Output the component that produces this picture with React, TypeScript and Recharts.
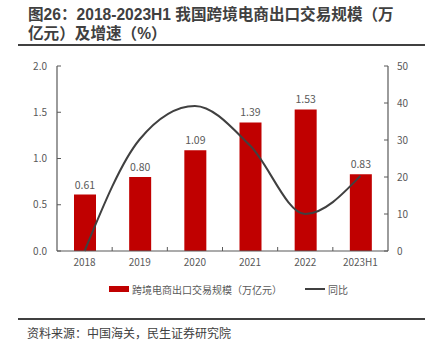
import React from "react";
import { ComposedChart, Bar, Line, XAxis, YAxis, LabelList } from "recharts";

const categories = ["2018", "2019", "2020", "2021", "2022", "2023H1"];
const scaleValues = [0.61, 0.8, 1.09, 1.39, 1.53, 0.83];
const growthValues = [0, 30.2, 39.2, 28.5, 10.0, 20.3];
const leftTicks = [0, 0.5, 1.0, 1.5, 2.0];
const rightTicks = [0, 10, 20, 30, 40, 50];

const data = categories.map((c, i) => ({ name: c, scale: scaleValues[i], growth: growthValues[i] }));

const FONT = "'Noto Sans CJK SC', 'Noto Sans', sans-serif";
const TITLE_FONT = "'Liberation Sans', 'Noto Sans CJK SC', sans-serif";
const TICK_COLOR = "#595959";
const AXIS_COLOR = "#595959";

const LeftTick = (props: any) => {
  const { x, y, payload } = props;
  const ax = x + 10;
  return (
    <g>
      <line x1={ax} x2={ax + 4} y1={y} y2={y} stroke={AXIS_COLOR} strokeWidth={1} />
      <text x={x} y={y} dy="0.35em" textAnchor="end" fontSize={10} fill={TICK_COLOR} fontFamily={FONT}>
        {Number(payload.value).toFixed(1)}
      </text>
    </g>
  );
};

const RightTick = (props: any) => {
  const { x, y, payload } = props;
  const ax = x - 9;
  return (
    <g>
      <line x1={ax - 4} x2={ax} y1={y} y2={y} stroke={AXIS_COLOR} strokeWidth={1} />
      <text x={x} y={y} dy="0.35em" textAnchor="start" fontSize={10} fill={TICK_COLOR} fontFamily={FONT}>
        {payload.value}
      </text>
    </g>
  );
};

const BottomTick = (props: any) => {
  const { x, y, payload, index } = props;
  const band = 331 / categories.length;
  const ay = y - 8;
  return (
    <g>
      {index < categories.length - 1 && (
        <line x1={x + band / 2} x2={x + band / 2} y1={ay - 4} y2={ay} stroke={AXIS_COLOR} strokeWidth={1} />
      )}
      <text x={x} y={y} dy="0.71em" textAnchor="middle" fontSize={10} fill={TICK_COLOR} fontFamily={FONT}>
        {payload.value}
      </text>
    </g>
  );
};

const titleStyle: React.CSSProperties = {
  position: "absolute",
  left: 28,
  fontSize: 15.6,
  fontWeight: 700,
  lineHeight: "17px",
  height: 17,
  color: "#404040",
  whiteSpace: "nowrap",
  fontFamily: TITLE_FONT,
};

export default function App() {
  return (
    <div style={{ position: "absolute", left: 0, top: 0, width: 431, height: 347, background: "#fff", fontFamily: FONT }}>
      <div style={{ ...titleStyle, top: 6 }}>图26：2018-2023H1 我国跨境电商出口交易规模（万</div>
      <div style={{ ...titleStyle, top: 25 }}>亿元）及增速（%）</div>
      <div style={{ position: "absolute", left: 18, top: 44, width: 407, height: 2, background: "#404040" }} />

      <div style={{ position: "absolute", left: 0, top: 50 }}>
        <ComposedChart
          width={431}
          height={230}
          data={data}
          margin={{ top: 16, right: 13, bottom: 9, left: 17 }}
          barCategoryGap="30%"
        >
          <XAxis
            dataKey="name"
            height={20}
            tickSize={6}
            tickMargin={2}
            tickLine={false}
            axisLine={{ stroke: AXIS_COLOR, strokeWidth: 1.2 }}
            tick={<BottomTick />}
            interval={0}
          />
          <YAxis
            yAxisId="left"
            orientation="left"
            width={40}
            domain={[0, 2]}
            ticks={leftTicks}
            tickSize={8}
            tickMargin={2}
            tickLine={false}
            axisLine={{ stroke: AXIS_COLOR, strokeWidth: 1.2 }}
            tick={<LeftTick />}
          />
          <YAxis
            yAxisId="right"
            orientation="right"
            width={30}
            domain={[0, 50]}
            ticks={rightTicks}
            tickSize={7}
            tickMargin={2}
            tickLine={false}
            axisLine={{ stroke: AXIS_COLOR, strokeWidth: 1.2 }}
            tick={<RightTick />}
          />
          <Bar yAxisId="left" dataKey="scale" fill="#C00000" barSize={22} isAnimationActive={false}>
            <LabelList
              dataKey="scale"
              position="top"
              offset={6}
              formatter={(v: any) => Number(v).toFixed(2)}
              style={{ fontSize: 10.5, fill: TICK_COLOR, fontFamily: FONT }}
            />
          </Bar>
          <Line
            yAxisId="right"
            type="monotone"
            dataKey="growth"
            stroke="#404040"
            strokeWidth={2}
            dot={false}
            isAnimationActive={false}
          />
        </ComposedChart>
      </div>

      <div style={{ position: "absolute", left: 109, top: 282, height: 14, display: "flex", alignItems: "center", fontSize: 10, color: TICK_COLOR }}>
        <div style={{ width: 20, height: 6, background: "#C00000", marginRight: 3 }} />
        <span>跨境电商出口交易规模（万亿元）</span>
        <div style={{ width: 20, height: 2, background: "#404040", marginLeft: 23, marginRight: 3 }} />
        <span>同比</span>
      </div>

      <div style={{ position: "absolute", left: 18, top: 318, width: 407, height: 1.5, background: "#404040" }} />
      <div style={{ position: "absolute", left: 27, top: 324, fontSize: 12, color: "#404040", lineHeight: "17px" }}>
        资料来源：中国海关，民生证券研究院
      </div>
    </div>
  );
}
